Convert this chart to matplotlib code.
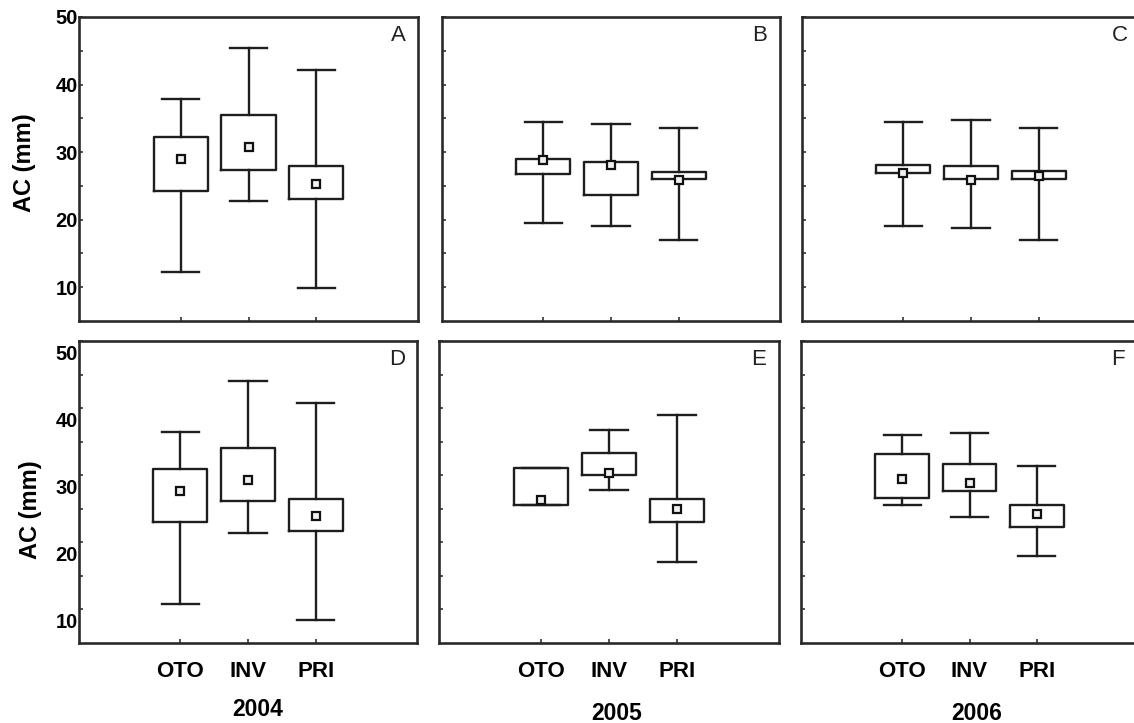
import matplotlib
matplotlib.use("Agg")
import matplotlib.pyplot as plt
import matplotlib.transforms as mtransforms

plt.rcParams["font.family"] = ["Liberation Sans", "DejaVu Sans"]

seasons = ["OTO", "INV", "PRI"]
years = ["2004", "2005", "2006"]
letters = ["A", "B", "C", "D", "E", "F"]

# one row of three seasons per panel, panels in order A..F
whisker_low = [
    [12.2, 22.8, 9.9],
    [19.5, 19.1, 17.0],
    [19.1, 18.7, 17.0],
    [10.8, 21.4, 8.4],
    [25.5, 27.8, 17.1],
    [25.5, 23.8, 17.9],
]
box_low = [
    [24.3, 27.4, 23.0],
    [26.7, 23.6, 26.0],
    [26.9, 26.0, 26.0],
    [23.1, 26.1, 21.7],
    [25.5, 30.1, 23.0],
    [26.6, 27.6, 22.3],
]
center = [
    [29.0, 30.8, 25.3],
    [28.9, 28.1, 25.9],
    [26.9, 25.9, 26.4],
    [27.7, 29.3, 23.9],
    [26.3, 30.4, 25.0],
    [29.4, 28.8, 24.2],
]
box_high = [
    [32.3, 35.5, 27.9],
    [29.0, 28.6, 27.1],
    [28.1, 27.9, 27.2],
    [30.9, 34.1, 26.5],
    [31.1, 33.3, 26.4],
    [33.1, 31.7, 25.5],
]
whisker_high = [
    [37.8, 45.4, 42.1],
    [34.4, 34.2, 33.6],
    [34.4, 34.7, 33.6],
    [36.5, 44.1, 40.8],
    [31.1, 36.7, 39.0],
    [36.0, 36.3, 31.3],
]

W, H = 1134, 723
# panel rectangles in pixels: left, top, right, bottom
rects = [
    (79, 17, 418, 321), (442, 17, 780, 321), (802, 17, 1140, 321),
    (79, 341, 417, 643), (439, 341, 779, 643), (801, 341, 1138, 643),
]

fig = plt.figure(figsize=(W / 100, H / 100), dpi=100)
line_kw = dict(color="#1e1e1e", linewidth=1.7)
positions = [1, 2, 3]

for i, (x0, y0, x1, y1) in enumerate(rects):
    ax = fig.add_axes([x0 / W, 1 - y1 / H, (x1 - x0) / W, (y1 - y0) / H])
    stats = []
    for j in range(3):
        stats.append(dict(
            whislo=whisker_low[i][j], q1=box_low[i][j], med=center[i][j],
            q3=box_high[i][j], whishi=whisker_high[i][j], mean=center[i][j],
        ))
    ax.bxp(stats, positions=positions, widths=0.8, capwidths=0.55,
           showmeans=True, showfliers=False,
           boxprops=line_kw, whiskerprops=line_kw, capprops=line_kw,
           medianprops=dict(visible=False),
           meanprops=dict(marker="s", markersize=5.5, markerfacecolor="#f0f0f0",
                          markeredgecolor="#111111", markeredgewidth=1.6))
    ax.set_xlim(-0.5, 4.5)
    ax.set_ylim(5, 50)
    ax.set_yticks([10, 20, 30, 40, 50])
    ax.set_yticks([15, 25, 35, 45], minor=True)
    ax.tick_params(axis="both", which="both", direction="in", length=3,
                   width=1.2, color="#333333")
    for side in ax.spines.values():
        side.set_linewidth(1.9)
        side.set_color("#2a2a2a")

    row, col = divmod(i, 3)
    if col == 0:
        ax.set_yticklabels(["10", "20", "30", "40", "50"], fontsize=14.5,
                           fontweight="bold")
        ax.tick_params(axis="y", pad=1)
        if row == 1:
            # labels sit a bit below their ticks in the lower row
            shift = mtransforms.ScaledTranslation(0, -11.5 / 100, fig.dpi_scale_trans)
            for lab in ax.get_yticklabels():
                lab.set_transform(lab.get_transform() + shift)
    else:
        ax.set_yticklabels([])

    ax.set_xticks(positions)
    if row == 1:
        ax.set_xticklabels(seasons, fontsize=16, fontweight="bold")
        ax.tick_params(axis="x", pad=13)
    else:
        ax.set_xticklabels([])

    ax.text(1 - 20 / (x1 - x0), 1 - 19 / (y1 - y0), letters[i],
            transform=ax.transAxes, ha="center", va="center", fontsize=16,
            color="#222222")

fig.text(24 / W, 1 - 163 / H, "AC (mm)", rotation=90, ha="center",
         va="center", fontsize=17, fontweight="bold")
fig.text(30 / W, 1 - 510 / H, "AC (mm)", rotation=90, ha="center",
         va="center", fontsize=17, fontweight="bold")

for (xp, yp), label in zip([(258, 709), (617, 713), (977, 713)], years):
    fig.text(xp / W, 1 - yp / H, label, ha="center", va="center",
             fontsize=16.5, fontweight="bold")

fig.savefig("out.png", dpi=100)
